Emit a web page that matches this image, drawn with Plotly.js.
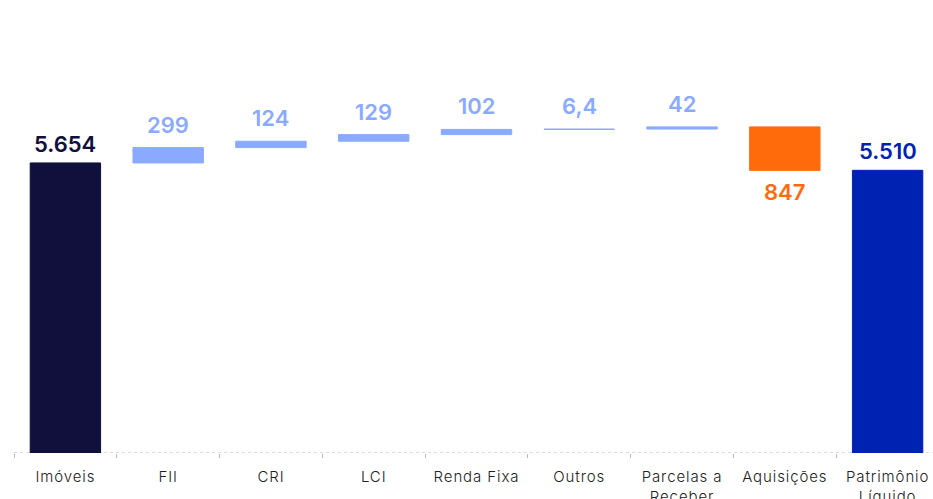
<!DOCTYPE html>
<html><head><meta charset="utf-8">
<script src="https://cdn.plot.ly/plotly-3.0.1.min.js"></script>
<style>html,body{margin:0;padding:0;overflow:hidden;background:#fff}
.xtick text{letter-spacing:0.9px}</style>
</head><body><div id="chart"></div>
<script>
const categories = ["Imóveis","FII","CRI","LCI","Renda Fixa","Outros","Parcelas a<br>Receber","Aquisições","Patrimônio<br>Líquido"];
const values = [5654, 299, 124, 129, 102, 6.4, 42, -847, 5510];
const measures = ["absolute","relative","relative","relative","relative","relative","relative","relative","total"];
const labels = ["5.654","299","124","129","102","6,4","42","847","5.510"];
const colors = ["#110f3b","#89aaff","#89aaff","#89aaff","#89aaff","#89aaff","#89aaff","#ff6b0b","#0022b2"];

let running = 0;
const bases = [], heights = [], anns = [];
values.forEach((v, i) => {
  let base, h;
  if (measures[i] === "absolute" || measures[i] === "total") { base = 0; h = v; running = v; }
  else { base = running; h = v; running += v; }
  bases.push(base); heights.push(h);
  const top = Math.max(base, base + h), bot = Math.min(base, base + h);
  const font = {family: "Inter, sans-serif", size: 22, weight: 600, color: colors[i]};
  if (h >= 0) {
    anns.push({x: categories[i], y: top, yanchor: "bottom", yshift: measures[i] === "relative" ? 8 : 4,
      text: labels[i], showarrow: false, font: font});
  } else {
    anns.push({x: categories[i], y: bot, yanchor: "top", yshift: -7, text: labels[i], showarrow: false, font: font});
  }
});

const trace = {type: "bar", x: categories, y: heights, base: bases,
  marker: {color: colors, line: {width: 1, color: colors}}, width: 0.685, hoverinfo: "skip"};

const layout = {
  width: 939, height: 499,
  margin: {l: 14, r: 0, t: 0, b: 46},
  paper_bgcolor: "#fff", plot_bgcolor: "#fff",
  showlegend: false,
  xaxis: {type: "category", tickson: "boundaries", ticks: "outside", ticklen: 4, tickcolor: "#bbbbbb", tickwidth: 1,
    showline: false, showgrid: false, zeroline: false, ticklabelstandoff: 13,
    tickfont: {family: "Inter, sans-serif", size: 15, weight: 300, color: "#222"}, automargin: false},
  yaxis: {range: [0, 8830], visible: false, showgrid: false, zeroline: false},
  shapes: [{type: "line", xref: "paper", yref: "y", x0: 0, x1: 1, y0: 0, y1: 0, layer: "below",
    line: {color: "#bbbbbb", width: 1, dash: "dot"}}],
  annotations: anns
};
Plotly.newPlot("chart", [trace], layout, {displayModeBar: false, staticPlot: true});
</script></body></html>
